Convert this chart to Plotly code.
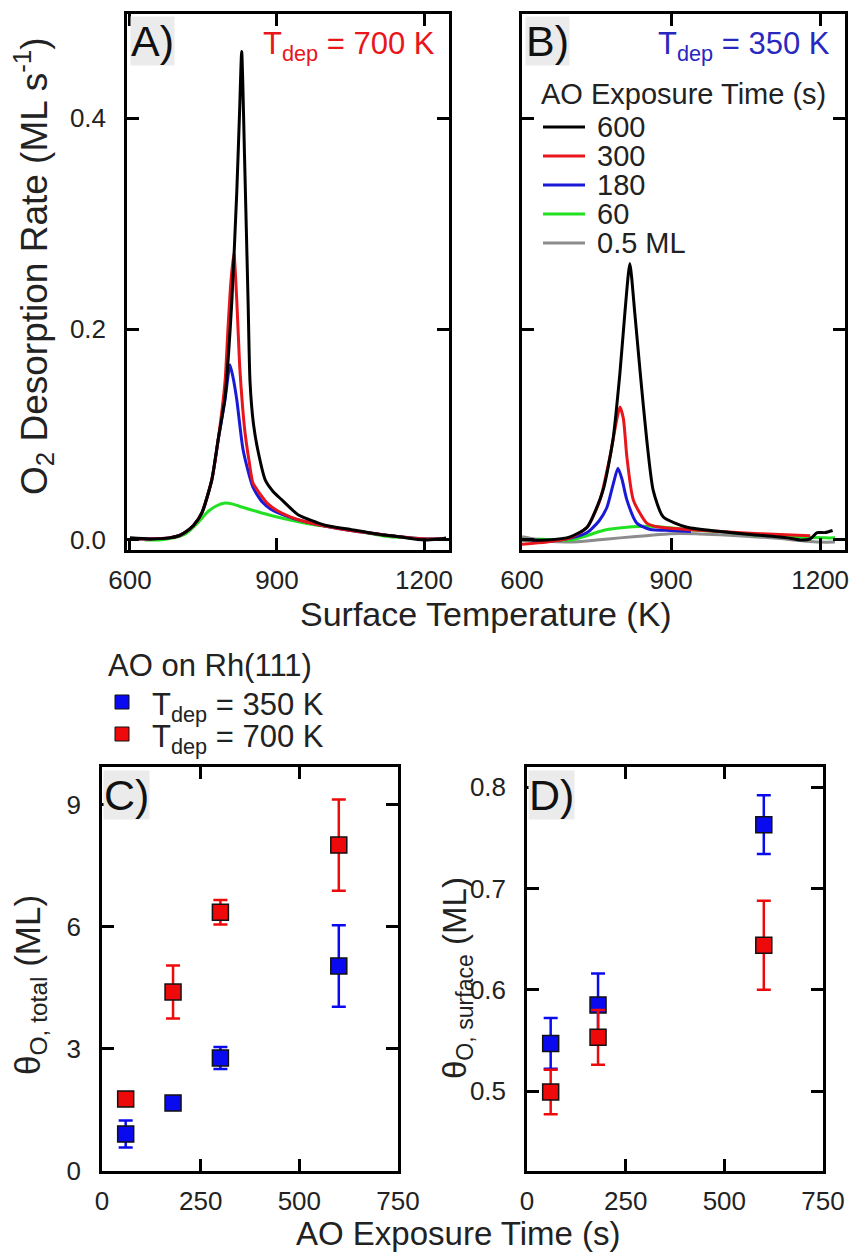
import plotly.graph_objects as go

W, H = 856, 1255


def px(x):
    return x / W


def py(y):
    return 1 - y / H


# ---------------- Panel A : T_dep = 700 K (TPD traces) ----------------
a600_T = [600, 640, 680, 700, 712, 730, 747, 767, 780, 794, 801, 808, 818, 824, 828, 834, 841, 845, 852, 861, 876, 892, 910, 943, 998, 1050, 1100, 1150, 1200, 1230, 1245]
a600_r = [0.002, 0.001, 0.002, 0.004, 0.007, 0.014, 0.026, 0.057, 0.095, 0.135, 0.175, 0.227, 0.330, 0.410, 0.463, 0.360, 0.227, 0.150, 0.110, 0.085, 0.057, 0.046, 0.038, 0.024, 0.014, 0.010, 0.006, 0.003, 0.000, 0.001, 0.002]

a300_T = [605, 640, 680, 700, 712, 730, 747, 767, 780, 794, 800, 806, 812, 818, 824, 830, 835, 843, 851, 865, 880, 900, 927, 960, 1000, 1050, 1100, 1150, 1200, 1235]
a300_r = [0.001, 0.001, 0.002, 0.004, 0.007, 0.014, 0.026, 0.057, 0.095, 0.150, 0.200, 0.245, 0.272, 0.227, 0.164, 0.125, 0.101, 0.075, 0.054, 0.044, 0.035, 0.028, 0.022, 0.017, 0.013, 0.009, 0.006, 0.003, 0.001, 0.001]

a180_T = [610, 640, 680, 700, 712, 730, 747, 767, 780, 794, 800, 804, 810, 818, 831, 851, 870, 892, 930, 961, 1000, 1050, 1100, 1150, 1200, 1240]
a180_r = [0.001, 0.001, 0.002, 0.004, 0.007, 0.014, 0.026, 0.057, 0.095, 0.133, 0.155, 0.166, 0.155, 0.133, 0.085, 0.050, 0.036, 0.028, 0.021, 0.017, 0.013, 0.009, 0.006, 0.003, 0.001, 0.001]

a60_T = [630, 660, 690, 710, 722, 740, 757, 775, 794, 810, 830, 859, 890, 927, 970, 1029, 1080, 1131, 1170, 1198, 1230]
a60_r = [0.000, 0.000, 0.002, 0.005, 0.009, 0.017, 0.026, 0.032, 0.035, 0.034, 0.031, 0.027, 0.023, 0.019, 0.015, 0.011, 0.007, 0.003, 0.002, 0.001, 0.001]

# ---------------- Panel B : T_dep = 350 K (TPD traces) ----------------
b600_T = [600, 650, 697, 731, 763, 783, 797, 807, 817, 827, 838, 851, 864, 884, 932, 999, 1065, 1134, 1160, 1180, 1194, 1210, 1225]
b600_r = [0.000, 0.000, 0.003, 0.012, 0.047, 0.095, 0.158, 0.215, 0.262, 0.215, 0.158, 0.095, 0.047, 0.022, 0.012, 0.008, 0.005, 0.002, 0.000, 0.001, 0.007, 0.007, 0.009]

b300_T = [600, 650, 697, 731, 757, 777, 789, 797, 804, 811, 824, 851, 878, 930, 1000, 1080, 1180]
b300_r = [-0.004, -0.002, 0.002, 0.012, 0.038, 0.079, 0.110, 0.126, 0.115, 0.079, 0.038, 0.016, 0.012, 0.010, 0.008, 0.006, 0.004]

b180_T = [620, 660, 700, 731, 755, 771, 783, 793, 801, 811, 831, 858, 900, 940]
b180_r = [0.000, -0.001, 0.002, 0.007, 0.018, 0.031, 0.052, 0.068, 0.058, 0.038, 0.016, 0.010, 0.009, 0.008]

b60_T = [630, 697, 730, 763, 811, 858, 932, 1000, 1065, 1140, 1210, 1230]
b60_r = [0.001, 0.000, 0.004, 0.009, 0.012, 0.013, 0.010, 0.008, 0.005, 0.003, 0.002, 0.002]

bhalf_T = [600, 650, 697, 750, 797, 850, 898, 950, 999, 1100, 1200, 1230]
bhalf_r = [0.003, -0.001, -0.002, 0.000, 0.002, 0.004, 0.006, 0.006, 0.005, 0.002, -0.002, -0.002]

# ---------------- Panels C, D : coverages ----------------
c350_t = [60, 180, 300, 600]
c350_total = [0.91, 1.67, 2.78, 5.04]
c350_total_err = [0.33, 0.15, 0.27, 1.00]
c700_t = [60, 180, 300, 600]
c700_total = [1.77, 4.40, 6.36, 8.01]
c700_total_err = [0.15, 0.65, 0.30, 1.12]

d350_t = [60, 180, 600]
d350_surf = [0.547, 0.585, 0.763]
d350_surf_err = [0.025, 0.031, 0.029]
d700_t = [60, 180, 600]
d700_surf = [0.499, 0.553, 0.644]
d700_surf_err = [0.022, 0.027, 0.044]

legend_labels = ["600", "300", "180", "60", "0.5 ML"]

BLACK = "#000000"
RED = "#e8161c"
BLUE = "#1a1ad6"
GREEN = "#22e022"
GRAY = "#8c8c8c"
MRED = "#ee0a0a"
MBLUE = "#0a0af0"
FONT = "Liberation Sans, Arial, sans-serif"
TXT = "#222222"

fig = go.Figure()

lw = 3
for T, r, c, n in [(a60_T, a60_r, GREEN, "60"), (a180_T, a180_r, BLUE, "180"),
                   (a300_T, a300_r, RED, "300"), (a600_T, a600_r, BLACK, "600")]:
    fig.add_trace(go.Scatter(x=T, y=r, mode="lines", line=dict(color=c, width=lw, shape="spline", smoothing=0.6),
                             name=n, showlegend=False, xaxis="x", yaxis="y"))

for T, r, c, n in [(bhalf_T, bhalf_r, GRAY, "0.5 ML"), (b60_T, b60_r, GREEN, "60"), (b180_T, b180_r, BLUE, "180"),
                   (b300_T, b300_r, RED, "300"), (b600_T, b600_r, BLACK, "600")]:
    fig.add_trace(go.Scatter(x=T, y=r, mode="lines", line=dict(color=c, width=lw, shape="spline", smoothing=0.6),
                             name=n, showlegend=False, xaxis="x2", yaxis="y2"))


def pts(x, y, e, col, ax, ay, name):
    return go.Scatter(x=x, y=y, mode="markers", name=name, showlegend=False,
                      marker=dict(symbol="square", size=16, color=col, line=dict(color="#111111", width=1.5)),
                      error_y=dict(type="data", array=e, visible=True, color=col, thickness=2.5, width=7),
                      xaxis=ax, yaxis=ay)


fig.add_trace(pts(c350_t, c350_total, c350_total_err, MBLUE, "x3", "y3", "350 K"))
fig.add_trace(pts(c700_t, c700_total, c700_total_err, MRED, "x3", "y3", "700 K"))
fig.add_trace(pts(d350_t, d350_surf, d350_surf_err, MBLUE, "x4", "y4", "350 K"))
fig.add_trace(pts(d700_t, d700_surf, d700_surf_err, MRED, "x4", "y4", "700 K"))

ax_style = dict(showline=True, linewidth=2.5, linecolor="black", mirror="ticks", ticks="inside",
                ticklen=12, tickwidth=2.5, tickcolor="black", showgrid=False, zeroline=False,
                automargin=False, tickfont=dict(size=26, color=TXT, family=FONT))

yAB = [py(550), py(14)]
yCD = [py(1171), py(767)]

fig.update_layout(
    width=W, height=H, margin=dict(l=0, r=0, t=0, b=0, autoexpand=False),
    paper_bgcolor="white", plot_bgcolor="white", showlegend=False,
    font=dict(family=FONT, color=TXT),
    xaxis=dict(domain=[px(127), px(449)], range=[594, 1251], tickvals=[600, 900, 1200],
               anchor="y", ticklabelstandoff=5, **ax_style),
    yaxis=dict(domain=yAB, range=[-0.0095, 0.4986], tickvals=[0.0, 0.2, 0.4], tickformat=".1f",
               anchor="x", ticklabelstandoff=13, **ax_style),
    xaxis2=dict(domain=[px(522), px(845)], range=[600, 1250], tickvals=[600, 900, 1200],
                anchor="y2", ticklabelstandoff=5, **ax_style),
    yaxis2=dict(domain=yAB, range=[-0.0095, 0.4986], tickvals=[0.0, 0.2, 0.4],
                showticklabels=False, anchor="x2", **ax_style),
    xaxis3=dict(domain=[px(102), px(398)], range=[0, 750], tickvals=[0, 250, 500, 750],
                anchor="y3", ticklabelstandoff=5, **ax_style),
    yaxis3=dict(domain=yCD, range=[0, 9.93], tickvals=[0, 3, 6, 9],
                anchor="x3", ticklabelstandoff=13, **ax_style),
    xaxis4=dict(domain=[px(527), px(823)], range=[0, 750], tickvals=[0, 250, 500, 750],
                anchor="y4", ticklabelstandoff=5, **ax_style),
    yaxis4=dict(domain=yCD, range=[0.421, 0.82], tickvals=[0.5, 0.6, 0.7, 0.8], tickformat=".1f",
                anchor="x4", ticklabelstandoff=13, **ax_style),
)

ann = []


def text(x, y, s, size, color=TXT, xanchor="center", yanchor="middle", angle=0, bg=None):
    d = dict(x=px(x), y=py(y), xref="paper", yref="paper", text=s, showarrow=False,
             font=dict(size=size, color=color, family=FONT), xanchor=xanchor, yanchor=yanchor,
             textangle=angle, borderpad=0)
    if bg:
        d["bgcolor"] = bg
    ann.append(d)


# panel labels
for (x, y, s) in [(130, 16, "A)"), (525, 16, "B)"), (103, 770, "C)"), (528, 770, "D)")]:
    text(x, y, s, 43, color="#111111", xanchor="left", yanchor="top", bg="#ebebeb")

# T_dep annotations
text(436, 46, "T<sub>dep</sub> = 700 K", 31, color=RED, xanchor="right")
text(831, 46, "T<sub>dep</sub> = 350 K", 31, color="#2828c0", xanchor="right")

# axis titles
text(486, 614, "Surface Temperature (K)", 34)
text(458, 1233, "AO Exposure Time (s)", 33)
text(34, 266, "O<sub>2</sub> Desorption Rate (ML s<sup>-1</sup>)", 37, angle=-90)
text(30, 985, "θ<sub>O, total</sub> (ML)", 35, angle=-90)
text(457, 978, "θ<sub>O, surface</sub> (ML)", 33, angle=-90)

# legend for panel B
text(540, 94, "AO Exposure Time (s)", 29, xanchor="left")
shapes = []
leg_cols = [BLACK, RED, BLUE, GREEN, GRAY]
leg_y = [127, 156, 185, 214, 243]
for lab, col, yy in zip(legend_labels, leg_cols, leg_y):
    shapes.append(dict(type="line", xref="paper", yref="paper", x0=px(543), x1=px(585), y0=py(yy), y1=py(yy),
                       line=dict(color=col, width=3)))
    text(596, yy, lab, 29, xanchor="left")

# legend for panel C/D
text(107, 665, "AO on Rh(111)", 31, xanchor="left")
for col, yy, lab in [(MBLUE, 702, "T<sub>dep</sub> = 350 K"), (MRED, 734, "T<sub>dep</sub> = 700 K")]:
    shapes.append(dict(type="rect", xref="paper", yref="paper", x0=px(115), x1=px(129), y0=py(yy + 7), y1=py(yy - 7),
                       fillcolor=col, line=dict(color="#111111", width=1)))
    text(151, yy + 5, lab, 31, xanchor="left")

fig.update_layout(annotations=ann, shapes=shapes)
fig.write_html("out.html", config={"displayModeBar": False},
               post_script="document.body.style.margin='0';document.body.style.padding='0';")
